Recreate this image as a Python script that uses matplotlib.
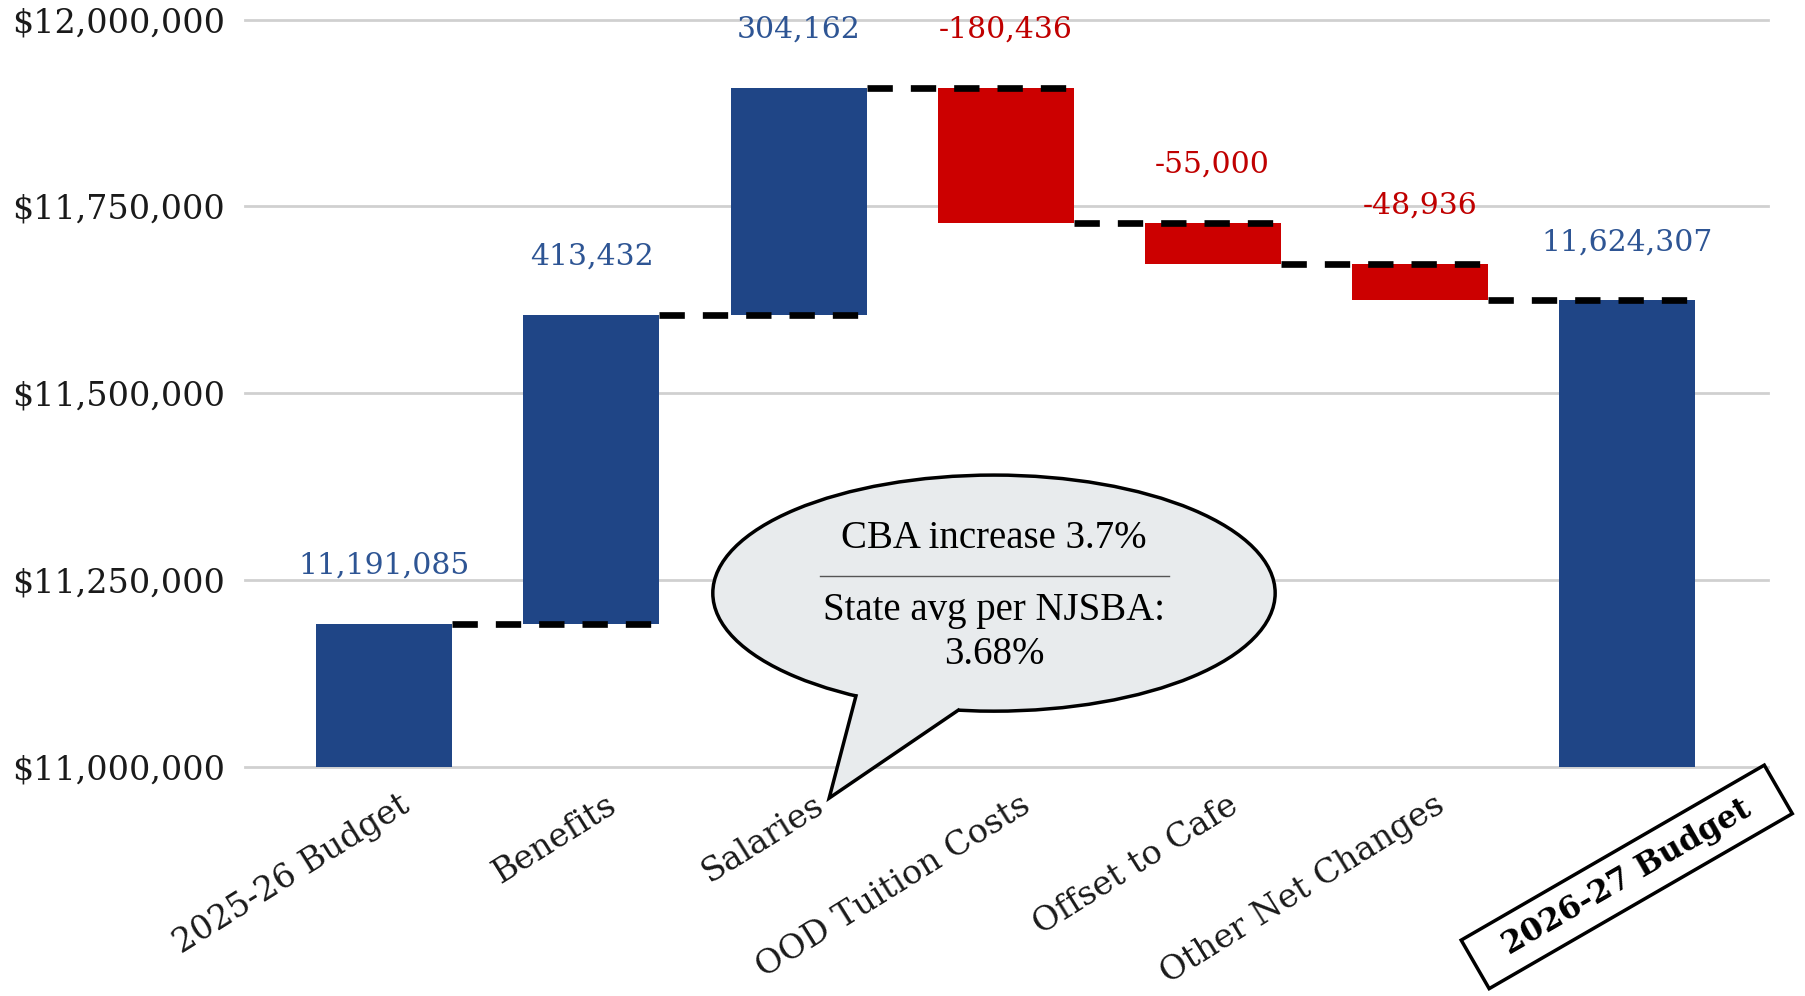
import matplotlib

matplotlib.use("Agg")
import matplotlib.pyplot as plt
import numpy as np
from matplotlib.patches import Ellipse, Polygon
from matplotlib.ticker import FuncFormatter

# --- Budget bridge data ---------------------------------------------------------
categories = ["2025-26 Budget", "Benefits", "Salaries", "OOD Tuition Costs",
              "Offset to Cafe", "Other Net Changes", "2026-27 Budget"]
start_budget = 11191085
changes = [413432, 304162, -180436, -55000, -48936]
end_budget = 11624307
y_ticks = [11000000, 11250000, 11500000, 11750000, 12000000]

BLUE = "#1f4586"
RED = "#cc0000"
BLUE_TXT = "#2e5594"
RED_TXT = "#c00000"

plt.rcParams["font.family"] = ["DejaVu Serif"]

# running totals -> bar bottoms/heights
levels = np.cumsum([start_budget] + changes)
bottoms = [0] + list(levels[:-1]) + [0]
heights = [start_budget] + changes + [end_budget]
colors = [BLUE] + [BLUE if c > 0 else RED for c in changes] + [BLUE]
label_colors = [BLUE_TXT] + [BLUE_TXT if c > 0 else RED_TXT for c in changes] + [BLUE_TXT]

fig = plt.figure(figsize=(18.06, 9.96), dpi=100)
ax = fig.add_axes([0.1357, 0.2299, 0.843, 0.7504])

x = np.arange(len(categories))
w = 0.657
ax.bar(x, heights, bottom=bottoms, width=w, color=colors, zorder=2)

# value labels above each bar's upper edge
for i in range(len(categories)):
    top = max(bottoms[i], bottoms[i] + heights[i])
    ax.annotate(f"{heights[i]:,}", xy=(x[i], top), xytext=(0, 42),
                textcoords="offset points", ha="center", va="center",
                fontsize=21.5, color=label_colors[i])

# dashed connectors between consecutive running totals
run = [start_budget] + list(levels[1:])
for i in range(len(categories) - 1):
    ax.plot([x[i] + w / 2, x[i + 1] + w / 2], [run[i], run[i]], color="black",
            lw=4.8, dashes=(3.8, 2.7), solid_capstyle="butt", zorder=3)

ax.set_xlim(-0.673, 6.68)
ax.set_ylim(11000000, 12000000)
ax.set_yticks(y_ticks)
ax.yaxis.set_major_formatter(FuncFormatter(lambda v, _: f"${v:,.0f}"))
ax.tick_params(axis="y", length=0, pad=14.4, labelsize=24, labelcolor="#1a1a1a")
ax.set_xticks([])
for s in ax.spines.values():
    s.set_visible(False)
ax.grid(axis="y", color="#d0d0d0", lw=2, zorder=0)
ax.set_axisbelow(True)
for gl in ax.get_ygridlines():
    gl.set_clip_on(False)

# rotated category labels
for i, name in enumerate(categories[:-1]):
    ax.annotate(name, xy=(x[i], 0), xycoords=("data", "axes fraction"),
                xytext=(10, -16), textcoords="offset points", rotation=32,
                rotation_mode="anchor", ha="right", va="top", fontsize=24,
                color="#1a1a1a")

# boxed label for the final budget
ax.text(x[-1], -0.147, "  " + categories[-1] + "  ", transform=ax.get_xaxis_transform(),
        rotation=30, rotation_mode="anchor", ha="center", va="center",
        fontsize=22.5, fontweight="bold",
        bbox=dict(boxstyle="square,pad=0.4", fc="white", ec="black", lw=2.5),
        zorder=5, clip_on=False)

# speech bubble callout
cx, cy, ew, eh = 2.944, 11232666, 2.716, 315870
bubble_fc = "#e8ebed"
ax.add_patch(Ellipse((cx, cy), ew, eh, fc=bubble_fc, ec="black", lw=2.5,
                     zorder=6, clip_on=False))


def on_ellipse(theta, scale=1.0):
    t = np.radians(theta)
    return cx + scale * ew / 2 * np.cos(t), cy + scale * eh / 2 * np.sin(t)


tip = (2.148, 10958398)
bl, br = on_ellipse(240.6), on_ellipse(262.7)
bl_in, br_in = on_ellipse(240.6, 0.9), on_ellipse(262.7, 0.9)
ax.add_patch(Polygon([bl_in, bl, tip, br, br_in], closed=True, fc=bubble_fc,
                     ec="none", zorder=7, clip_on=False))
ax.plot([bl[0], tip[0], br[0]], [bl[1], tip[1], br[1]], color="black", lw=2.5,
        solid_joinstyle="miter", zorder=8, clip_on=False)

bubble_font = ["Liberation Serif", "DejaVu Serif"]
ax.text(cx, 11305085, "CBA increase 3.7%", ha="center", va="center",
        fontsize=28, family=bubble_font, zorder=9)
ax.plot([2.104, 3.790], [11255778, 11255778], color="#555555", lw=1, zorder=9)
ax.text(cx, 11209553, "State avg per NJSBA:", ha="center", va="center",
        fontsize=28, family=bubble_font, zorder=9)
ax.text(cx, 11151002, "3.68%", ha="center", va="center",
        fontsize=28, family=bubble_font, zorder=9)

fig.savefig("out.png", dpi=100, facecolor="white")
